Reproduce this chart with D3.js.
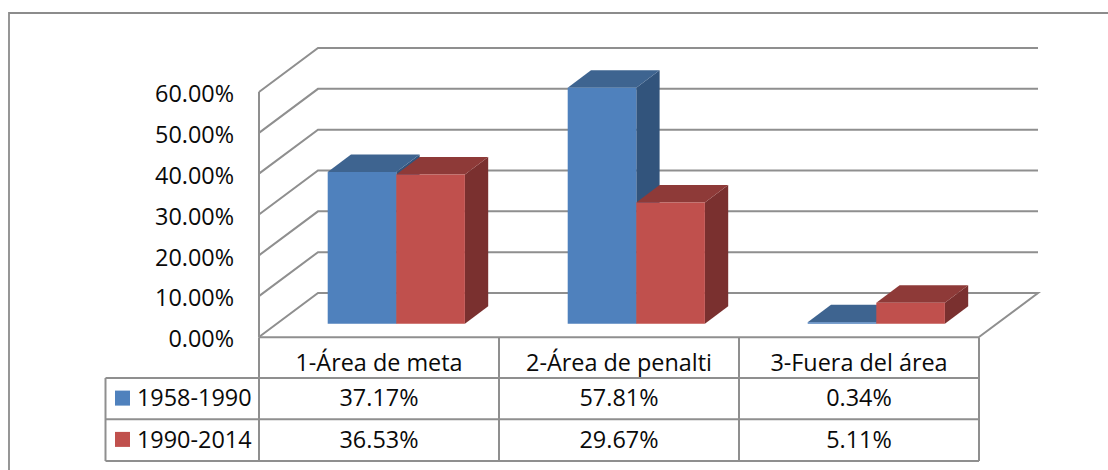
<!DOCTYPE html>
<html><head><meta charset="utf-8">
<script src="https://cdn.jsdelivr.net/npm/d3@7"></script>
<style>html,body{margin:0;background:#fff}svg{display:block}text{font-family:"Open Sans",sans-serif;fill:#0a0a0a}</style>
</head><body><svg id="c" width="1108" height="470"></svg>
<script>
const categories = ["1-Área de meta","2-Área de penalti","3-Fuera del área"];
const seriesNames = ["1958-1990","1990-2014"];
const values1958 = [37.17,57.81,0.34];
const values1990 = [36.53,29.67,5.11];
const tickValues = [0,10,20,30,40,50,60];
const frontColors = ["#4F81BD","#C0504D"];
const topColors = ["#3E6490","#8E3A38"];
const sideColors = ["#32547C","#7A302F"];
const grid = "#8f8f8f";
const fs = 23.4;

const svg = d3.select("#c");
const X0=259, X1=979, Y0=337, Y60=92;
const depth={dx:59,dy:-44};
const barOff={dx:17.3,dy:-13.3}, barDepth={dx:23.3,dy:-17.5};
const x = d3.scaleBand().domain(categories).range([X0,X1]);
const y = d3.scaleLinear().domain([0,60]).range([Y0,Y60]);
const s = d3.scaleBand().domain(seriesNames).range([-68.6,68.6]);
const all=[values1958,values1990];
const line=(pts,w=2,c=grid)=>svg.append("path").attr("d",d3.line()(pts)).attr("fill","none").attr("stroke",c).attr("stroke-width",w);

// outer frame (no right edge in the reference)
line([[9,470],[9,13],[1108,13]],1.8,"#8c8c8c");

// walls
tickValues.forEach(t=>{
  const yy=y(t);
  const pts=[[X0,yy],[X0+depth.dx,yy+depth.dy],[X1+depth.dx,yy+depth.dy]];
  if(t===0) pts.push([X1,yy]);
  line(pts);
});
line([[X0,Y60],[X0,Y0]]);

// bars
categories.forEach((c,i)=>{
  seriesNames.forEach((n,j)=>{
    const v=all[j][i];
    const L=x(c)+x.bandwidth()/2+barOff.dx+s(n), R=L+s.bandwidth();
    const B=Y0+barOff.dy, T=B-(Y0-y(v));
    const d=barDepth;
    const g=svg.append("g");
    const poly=(pts,col)=>g.append("polygon").attr("points",pts.map(p=>p.join(",")).join(" ")).attr("fill",col);
    poly([[R,B],[R+d.dx,B+d.dy],[R+d.dx,T+d.dy],[R,T]],sideColors[j]);
    poly([[L,T],[L+d.dx,T+d.dy],[R+d.dx,T+d.dy],[R,T]],topColors[j]);
    poly([[L,B],[R,B],[R,T],[L,T]],frontColors[j]);
  });
});

// axis labels
svg.append("g").selectAll("text").data(tickValues).join("text")
  .attr("x",234).attr("y",t=>y(t)+10.3).attr("text-anchor","end").attr("font-size",fs)
  .text(t=>t.toFixed(2)+"%");

// data table
const rows=[337.3,378,419.3,461];
const colX=[X0,...categories.map(c=>x(c)+x.bandwidth())];
line([[X0,rows[0]],[X1,rows[0]]]);
rows.slice(1).forEach(r=>line([[105.5,r],[X1,r]]));
colX.forEach(cx=>line([[cx,rows[0]],[cx,rows[3]]]));
line([[105.5,rows[1]],[105.5,rows[3]]]);

categories.forEach((c,i)=>{
  const cx=x(c)+x.bandwidth()/2;
  svg.append("text").attr("x",cx).attr("y",371).attr("text-anchor","middle").attr("font-size",fs).text(c);
  all.forEach((vals,j)=>svg.append("text").attr("x",cx).attr("y",rows[j+1]+28.3).attr("text-anchor","middle").attr("font-size",fs).text(vals[i].toFixed(2)+"%"));
});
seriesNames.forEach((n,j)=>{
  svg.append("rect").attr("x",115).attr("y",rows[j+1]+12.6).attr("width",15).attr("height",15).attr("fill",frontColors[j]);
  svg.append("text").attr("x",137).attr("y",rows[j+1]+28.3).attr("font-size",fs).text(n);
});
</script></body></html>
